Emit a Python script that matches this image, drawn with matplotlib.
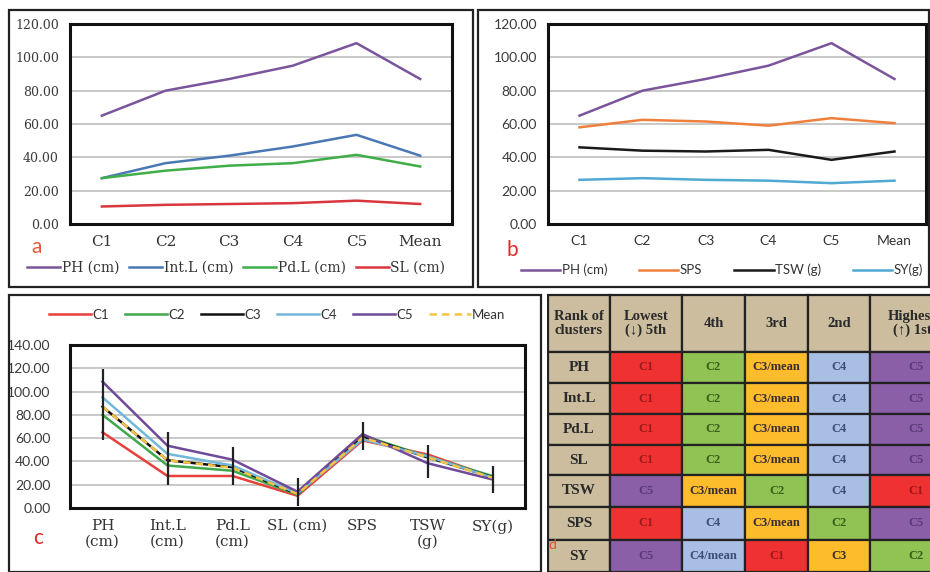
import numpy as np
import matplotlib.pyplot as plt
from matplotlib.patches import Rectangle

# ---- data ----
clusters = ['C1', 'C2', 'C3', 'C4', 'C5', 'Mean']
ph = [65, 80, 87, 95, 108.5, 87]
intl = [27.5, 36.5, 41, 46.5, 53.5, 41]
pdl = [27.5, 32, 35, 36.5, 41.5, 34.5]
sl = [10.5, 11.5, 12, 12.5, 14, 12]
sps = [58, 62.5, 61.5, 59, 63.5, 60.5]
tsw = [46, 44, 43.5, 44.5, 38.5, 43.5]
sy = [26.5, 27.5, 26.5, 26, 24.5, 26]

traits = ['PH\n(cm)', 'Int.L\n(cm)', 'Pd.L\n(cm)', 'SL (cm)', 'SPS', 'TSW\n(g)', 'SY(g)']
bar_low = [58, 20, 20, 2, 50, 26, 13]
bar_high = [119, 65, 52, 26, 74, 54, 36]

table_header = ['Rank of\nclusters', 'Lowest\n(\u2193) 5th', '4th', '3rd', '2nd', 'Highest\n(\u2191) 1st']
table_rows = ['PH', 'Int.L', 'Pd.L', 'SL', 'TSW', 'SPS', 'SY']
table_cells = [
    ['C1', 'C2', 'C3/mean', 'C4', 'C5'],
    ['C1', 'C2', 'C3/mean', 'C4', 'C5'],
    ['C1', 'C2', 'C3/mean', 'C4', 'C5'],
    ['C1', 'C2', 'C3/mean', 'C4', 'C5'],
    ['C5', 'C3/mean', 'C2', 'C4', 'C1'],
    ['C1', 'C4', 'C3/mean', 'C2', 'C5'],
    ['C5', 'C4/mean', 'C1', 'C3', 'C2'],
]

W, H = 930, 572
fig = plt.figure(figsize=(W / 100, H / 100), dpi=100)
fig.patch.set_facecolor('white')


def box(x0, y0, x1, y1):
    return [x0 / W, 1 - y1 / H, (x1 - x0) / W, (y1 - y0) / H]


def frame(x0, y0, x1, y1):
    fig.add_artist(Rectangle((x0 / W, 1 - y1 / H), (x1 - x0) / W, (y1 - y0) / H,
                             transform=fig.transFigure, fill=False,
                             edgecolor='#222222', lw=1.6))


def style_axes(ax, ymax, tickfont, tsize):
    ax.set_ylim(0, ymax)
    ax.set_yticks(np.arange(0, ymax + 1, 20))
    ax.set_yticklabels(['%.2f' % v for v in np.arange(0, ymax + 1, 20)],
                       family=tickfont, fontsize=tsize, color='#3a3a3a')
    ax.yaxis.grid(True, color='#c4c4c4', lw=1.3)
    ax.set_axisbelow(True)
    for s in ax.spines.values():
        s.set_linewidth(2.2)
        s.set_color('#111111')
    ax.tick_params(axis='y', length=0, pad=8)
    ax.tick_params(axis='x', length=0, pad=8)


serif = ['DejaVu Serif']
sans = ['Lato', 'DejaVu Sans']

# ---- panel a ----
frame(9, 10, 473, 287)
ax_a = fig.add_axes(box(70, 24, 452, 224))
x = np.arange(len(clusters))
ax_a.plot(x, ph, color='#7a559c', lw=1.8, label='PH (cm)')
ax_a.plot(x, intl, color='#4a78b5', lw=1.8, label='Int.L (cm)')
ax_a.plot(x, pdl, color='#3fae49', lw=1.8, label='Pd.L (cm)')
ax_a.plot(x, sl, color='#d9363e', lw=1.8, label='SL (cm)')
ax_a.set_xlim(-0.5, len(clusters) - 0.5)
ax_a.set_xticks(x)
ax_a.set_xticklabels(clusters, family=serif, fontsize=11, color='#333333')
style_axes(ax_a, 120, serif, 9)
ax_a.legend(loc='center', bbox_to_anchor=(0.435, -0.22), ncol=4, frameon=False,
            prop={'family': serif, 'size': 10}, handlelength=2.4, handletextpad=0.1,
            columnspacing=0.7, labelcolor='#333333')
fig.text(37 / W, 1 - 247 / H, 'a', color='#e65a3c', fontsize=15, family=sans,
         ha='center', va='center')

# ---- panel b ----
frame(478, 10, 929, 287)
ax_b = fig.add_axes(box(548, 24, 926, 224))
ax_b.plot(x, ph, color='#7a559c', lw=1.8, label='PH (cm)')
ax_b.plot(x, sps, color='#f07f3c', lw=1.8, label='SPS')
ax_b.plot(x, tsw, color='#1a1a1a', lw=1.8, label='TSW (g)')
ax_b.plot(x, sy, color='#4fa9d2', lw=1.8, label='SY(g)')
ax_b.set_xlim(-0.5, len(clusters) - 0.5)
ax_b.set_xticks(x)
ax_b.set_xticklabels(clusters, family=sans, fontsize=10, color='#333333')
style_axes(ax_b, 120, sans, 10)
ax_b.legend(loc='center', bbox_to_anchor=(0.46, -0.23), ncol=4, frameon=False,
            prop={'family': sans, 'size': 9.5}, handlelength=3.0, handletextpad=0.1,
            columnspacing=2.4, labelcolor='#333333')
fig.text(512 / W, 1 - 250 / H, 'b', color='#e02a2a', fontsize=15, family=sans,
         ha='center', va='center')

# ---- panel c ----
frame(9, 295, 541, 572)
ax_c = fig.add_axes(box(70, 345, 525, 508))
xc = np.arange(len(traits))
series_c = {}
for i, name in enumerate(clusters):
    series_c[name] = [ph[i], intl[i], pdl[i], sl[i], sps[i], tsw[i], sy[i]]
ax_c.vlines(xc, bar_low, bar_high, color='#222222', lw=1.6, zorder=5)
ax_c.plot(xc, series_c['C1'], color='#e8403a', lw=1.8, label='C1')
ax_c.plot(xc, series_c['C2'], color='#3fa84a', lw=1.8, label='C2')
ax_c.plot(xc, series_c['C3'], color='#111111', lw=1.8, label='C3')
ax_c.plot(xc, series_c['C4'], color='#72b8da', lw=1.8, label='C4')
ax_c.plot(xc, series_c['C5'], color='#6e4a99', lw=1.8, label='C5')
ax_c.plot(xc, series_c['Mean'], color='#f5c444', lw=1.8, ls=(0, (3, 2)), label='Mean')
ax_c.set_xlim(-0.5, len(traits) - 0.5)
ax_c.set_xticks(xc)
ax_c.set_xticklabels(traits, family=serif, fontsize=11, color='#333333', linespacing=1.1)
style_axes(ax_c, 140, sans, 10)
ax_c.tick_params(axis='y', pad=14)
ax_c.legend(loc='center', bbox_to_anchor=(0.455, 1.0 + 30 / 163), ncol=6, frameon=False,
            prop={'family': sans, 'size': 9.5}, handlelength=3.2, handletextpad=0.1,
            columnspacing=1.2, labelcolor='#333333')
fig.text(38 / W, 1 - 538 / H, 'c', color='#e02a2a', fontsize=15, family=sans,
         ha='center', va='center')

# ---- panel d (table) ----
cell_colors = {'C1': '#ef3131', 'C2': '#91c354', 'C3': '#fdbc2c', 'C4': '#a9bee3', 'C5': '#8b5fa8'}
text_colors = {'C1': '#9c1a1a', 'C2': '#3a5e1c', 'C3': '#3a2c30', 'C4': '#3c4e78', 'C5': '#5a3a78'}
col_edges = [548, 610, 682, 745, 808, 870, 962]
row_edges = [295, 352, 383, 414, 445, 475, 507, 540, 572]
tan = '#cbbd9d'

ax_d = fig.add_axes(box(547, 292, 930, 572))
ax_d.set_xlim(547, 930)
ax_d.set_ylim(572, 292)
ax_d.axis('off')

for j, head in enumerate(table_header):
    x0, x1 = col_edges[j], col_edges[j + 1]
    y0, y1 = row_edges[0], row_edges[1]
    ax_d.add_patch(Rectangle((x0, y0), x1 - x0, y1 - y0, facecolor=tan, edgecolor='#222222', lw=1.6))
    ax_d.text((x0 + x1) / 2 if j < 5 else x0 + 42, (y0 + y1) / 2, head, ha='center', va='center',
              family=['Liberation Serif', 'DejaVu Serif'], fontsize=10.5, fontweight='bold',
              color='#2a2a2a', linespacing=1.0, clip_on=True)

for i, rname in enumerate(table_rows):
    y0, y1 = row_edges[i + 1], row_edges[i + 2]
    x0, x1 = col_edges[0], col_edges[1]
    ax_d.add_patch(Rectangle((x0, y0), x1 - x0, y1 - y0, facecolor=tan, edgecolor='#222222', lw=1.6))
    ax_d.text((x0 + x1) / 2, (y0 + y1) / 2, rname, ha='center', va='center',
              family=['Liberation Serif'], fontsize=11, fontweight='bold', color='#2a2a2a')
    for j, val in enumerate(table_cells[i]):
        key = val[:2]
        x0, x1 = col_edges[j + 1], col_edges[j + 2]
        ax_d.add_patch(Rectangle((x0, y0), x1 - x0, y1 - y0, facecolor=cell_colors[key],
                                 edgecolor='#222222', lw=1.6))
        tx = (x0 + x1) / 2 if j < 4 else x0 + 46
        ax_d.text(tx, (y0 + y1) / 2, val, ha='center', va='center',
                  family=['Liberation Serif'], fontsize=9, fontweight='bold',
                  color=text_colors[key], clip_on=True)

fig.text(552 / W, 1 - 545 / H, 'd', color='#e05030', fontsize=10, family=sans,
         ha='center', va='center')

fig.savefig('out.png', dpi=100)
